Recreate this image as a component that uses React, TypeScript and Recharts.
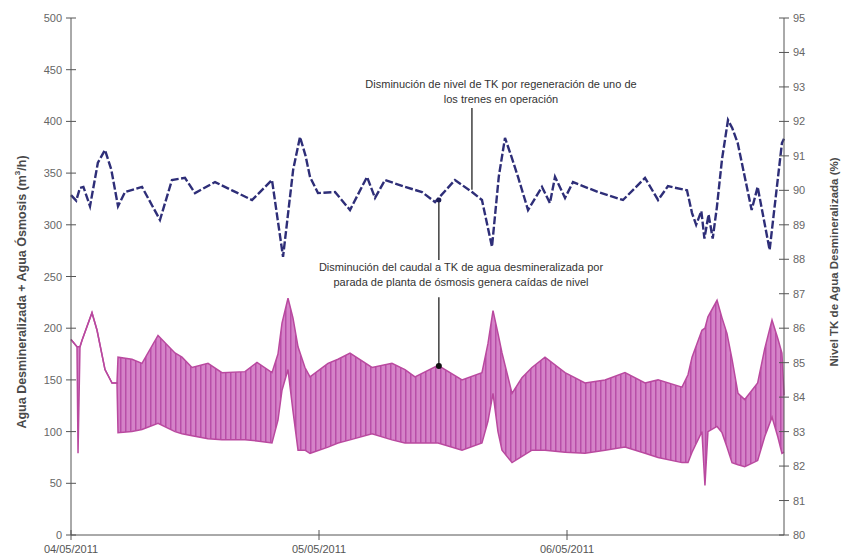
import React from 'react'
import {
  ComposedChart,
  Area,
  Line,
  XAxis,
  YAxis,
  ReferenceLine,
  ReferenceDot,
} from 'recharts'

// hours since 04/05/2011 00:00
const dateLabels = ['04/05/2011', '05/05/2011', '06/05/2011']
const dateTicks = [0, 24, 48]

const flowTicks = [0, 50, 100, 150, 200, 250, 300, 350, 400, 450, 500]
const levelTicks = [80, 81, 82, 83, 84, 85, 86, 87, 88, 89, 90, 91, 92, 93, 94, 95]

// Agua desmineralizada + ósmosis (m3/h): envelope of the oscillating signal
const pinkHours = [
  0, 0.58, 0.68, 0.87, 1.06, 2.03, 2.52, 3.29, 3.97, 4.45, 4.55, 5.9, 6.87, 8.42, 10.06,
  10.74, 11.71, 13.26, 14.61, 16.84, 18.0, 19.45, 20.03, 20.42, 21.0, 21.48, 21.97, 22.64,
  23.13, 24.87, 25.84, 27.0, 29.13, 31.06, 32.32, 33.29, 35.52, 37.84, 39.77, 40.35, 40.84,
  41.32, 41.71, 42.68, 43.64, 44.61, 45.87, 47.81, 49.74, 51.68, 53.61, 55.55, 56.81, 59.13,
  59.71, 60.1, 61.06, 61.35, 61.64, 62.52, 63.0, 63.48, 63.97, 64.55, 65.2, 66.45, 67.13,
  67.84, 68.4, 68.8, 69.0,
]
const pinkHigh = [
  189, 182, 182, 182, 188, 215, 198, 160, 147, 147, 172, 170, 166, 193, 176,
  172, 162, 166, 157, 158, 167, 157, 175, 205, 229, 210, 182, 162,
  153, 166, 170, 176, 162, 166, 160, 153, 164, 150, 157, 185, 217,
  195, 176, 137, 152, 162, 172, 157, 147, 150, 157, 147, 150, 143,
  155, 172, 198, 200, 211, 227, 210, 195, 170, 137, 131, 147, 180,
  208, 190, 176, 135,
]
const pinkLow = [
  189, 182, 79, 182, 188, 215, 198, 160, 147, 147, 99, 100, 102, 108, 100,
  98, 96, 93, 92, 92, 91, 89, 111, 140, 160, 120, 82, 82,
  79, 85, 89, 92, 98, 92, 89, 89, 89, 82, 89, 110, 137,
  100, 82, 70, 76, 82, 82, 80, 79, 82, 85, 79, 75, 70,
  70, 80, 100, 48, 100, 105, 99, 85, 70, 68, 66, 72, 95,
  114, 95, 79, 80,
]

// Nivel TK de agua desmineralizada (%)
const blueHours = [
  0, 0.5, 0.87, 1.2, 1.84, 2.6, 3.29, 3.9, 4.55, 5.23, 6.87, 8.61, 9.77, 11.03, 12.0, 13.94,
  15.58, 17.52, 19.45, 20.52, 21.5, 22.16, 22.7, 23.13, 23.9, 25.55, 27.0, 28.65, 29.42,
  30.39, 32.32, 33.97, 35.23, 37.16, 38.81, 39.77, 40.74, 41.4, 42.0, 42.6, 43.26, 44.23,
  45.58, 46.35, 46.84, 47.81, 48.58, 51.0, 53.42, 55.55, 56.81, 57.77, 59.61, 60.1, 60.5,
  61.0, 61.3, 61.7, 62.1, 62.5, 63.0, 63.58, 64.0, 64.52, 65.87, 66.45, 67.61, 68.8, 69.0,
]
const blueLevel = [
  89.86, 89.7, 90.07, 90.1, 89.54, 90.8, 91.17, 90.6, 89.54, 89.95, 90.1, 89.14, 90.3, 90.36,
  89.92, 90.24, 90.0, 89.72, 90.3, 88.07, 90.6, 91.55, 91.0, 90.39, 89.92, 89.95, 89.43,
  90.39, 89.78, 90.3, 90.1, 89.95, 89.66, 90.3, 89.95, 89.72, 88.36, 90.4, 91.52, 91.0,
  90.39, 89.43, 90.1, 89.63, 90.39, 89.78, 90.24, 89.95, 89.72, 90.36, 89.72, 90.12, 90.0,
  89.34, 89.0, 89.4, 88.6, 89.3, 88.6, 89.5, 90.9, 92.04, 91.8, 91.37, 89.43, 90.1, 88.27,
  91.37, 91.5,
]

const pinkData = pinkHours.map((h, i) => ({ h, band: [pinkLow[i], pinkHigh[i]] }))
const blueData = blueHours.map((h, i) => ({ h, level: blueLevel[i] }))

const FONT = '"Liberation Sans", Arial, sans-serif'
const AXIS = '#555'
const TICK_SIZE = 5
const TICK_MARGIN = 4

const LeftTick = (props: any) => {
  const { x, y, payload } = props
  const ax = x + TICK_SIZE + TICK_MARGIN
  return (
    <g>
      <line x1={ax - 5} x2={ax + 5} y1={y} y2={y} stroke={AXIS} />
      <text x={x} y={y} dy={4} textAnchor="end" fontSize={11} fill="#666" fontFamily={FONT}>
        {payload.value}
      </text>
    </g>
  )
}

const RightTick = (props: any) => {
  const { x, y, payload } = props
  const ax = x - TICK_SIZE - TICK_MARGIN
  return (
    <g>
      <line x1={ax - 5} x2={ax + 5} y1={y} y2={y} stroke={AXIS} />
      <text x={x} y={y} dy={4} textAnchor="start" fontSize={11} fill="#666" fontFamily={FONT}>
        {payload.value}
      </text>
    </g>
  )
}

const BottomTick = (props: any) => {
  const { x, y, payload } = props
  const ay = y - TICK_SIZE - TICK_MARGIN
  const idx = dateTicks.indexOf(payload.value)
  return (
    <g>
      <line x1={x} x2={x} y1={ay - 5} y2={ay + 5} stroke={AXIS} />
      <text x={x} y={y} dy={9} textAnchor="middle" fontSize={11} fill="#555" fontFamily={FONT}>
        {dateLabels[idx]}
      </text>
    </g>
  )
}

const noteStyle: React.CSSProperties = {
  position: 'absolute',
  fontFamily: FONT,
  fontSize: 11,
  color: '#333',
  textAlign: 'center',
  lineHeight: '15px',
  whiteSpace: 'nowrap',
  transform: 'translateX(-50%)',
}

const titleStyle: React.CSSProperties = {
  position: 'absolute',
  fontFamily: FONT,
  fontWeight: 'bold',
  color: '#4a4a4a',
  whiteSpace: 'nowrap',
  transform: 'translate(-50%, -50%) rotate(-90deg)',
}

export default function App() {
  return (
    <div style={{ position: 'absolute', left: 0, top: 0, width: 847, height: 560, background: '#fff' }}>
      <ComposedChart width={847} height={560} margin={{ top: 18, right: 0, bottom: 0, left: 0 }}>
        <defs>
          <pattern id="stripes" width="5" height="10" patternUnits="userSpaceOnUse">
            <rect width="5" height="10" fill="#d582c8" />
            <rect x="0" width="1.5" height="10" fill="#b84ea8" />
          </pattern>
        </defs>
        <XAxis
          dataKey="h"
          type="number"
          domain={[0, 69]}
          ticks={dateTicks}
          height={25}
          axisLine={{ stroke: AXIS }}
          tickLine={false}
          tickSize={TICK_SIZE}
          tickMargin={TICK_MARGIN}
          tick={<BottomTick />}
          allowDuplicatedCategory={false}
        />
        <YAxis
          yAxisId="left"
          domain={[0, 500]}
          ticks={flowTicks}
          width={71}
          axisLine={{ stroke: AXIS }}
          tickLine={false}
          tickSize={TICK_SIZE}
          tickMargin={TICK_MARGIN}
          tick={<LeftTick />}
        />
        <YAxis
          yAxisId="right"
          orientation="right"
          domain={[80, 95]}
          ticks={levelTicks}
          width={63}
          axisLine={{ stroke: AXIS }}
          tickLine={false}
          tickSize={TICK_SIZE}
          tickMargin={TICK_MARGIN}
          tick={<RightTick />}
        />
        <Area
          yAxisId="left"
          data={pinkData}
          dataKey="band"
          type="linear"
          stroke="#b9499f"
          strokeWidth={1.5}
          fill="url(#stripes)"
          fillOpacity={1}
          isAnimationActive={false}
          dot={false}
          activeDot={false}
        />
        <Line
          yAxisId="right"
          data={blueData}
          dataKey="level"
          type="linear"
          stroke="#2e2e78"
          strokeWidth={2.4}
          strokeDasharray="8 2.5"
          dot={false}
          activeDot={false}
          isAnimationActive={false}
        />
        <ReferenceLine
          yAxisId="left"
          segment={[{ x: 38.8, y: 413 }, { x: 38.8, y: 334 }]}
          stroke="#222"
          strokeWidth={1.3}
        />
        <ReferenceLine
          yAxisId="left"
          segment={[{ x: 35.6, y: 324 }, { x: 35.6, y: 266 }]}
          stroke="#222"
          strokeWidth={1.3}
        />
        <ReferenceLine
          yAxisId="left"
          segment={[{ x: 35.6, y: 230 }, { x: 35.6, y: 163.5 }]}
          stroke="#222"
          strokeWidth={1.3}
        />
        <ReferenceDot yAxisId="left" x={35.6} y={163.5} r={3} fill="#111" stroke="none" />
        <ReferenceDot yAxisId="left" x={35.6} y={324} r={2.5} fill="#1c1c55" stroke="none" />
      </ComposedChart>

      <div style={{ ...noteStyle, left: 501, top: 77 }}>
        Disminución de nivel de TK por regeneración de uno de
        <br />
        los trenes en operación
      </div>
      <div style={{ ...noteStyle, left: 461, top: 260 }}>
        Disminución del caudal a TK de agua desmineralizada por
        <br />
        parada de planta de ósmosis genera caídas de nivel
      </div>

      <div style={{ ...titleStyle, left: 21, top: 292, fontSize: 12.5 }}>
        Agua Desmineralizada + Agua Ósmosis (m<sup style={{ fontSize: 8 }}>3</sup>/h)
      </div>
      <div style={{ ...titleStyle, left: 834, top: 262, fontSize: 11.5 }}>
        Nivel TK de Agua Desmineralizada (%)
      </div>
    </div>
  )
}
